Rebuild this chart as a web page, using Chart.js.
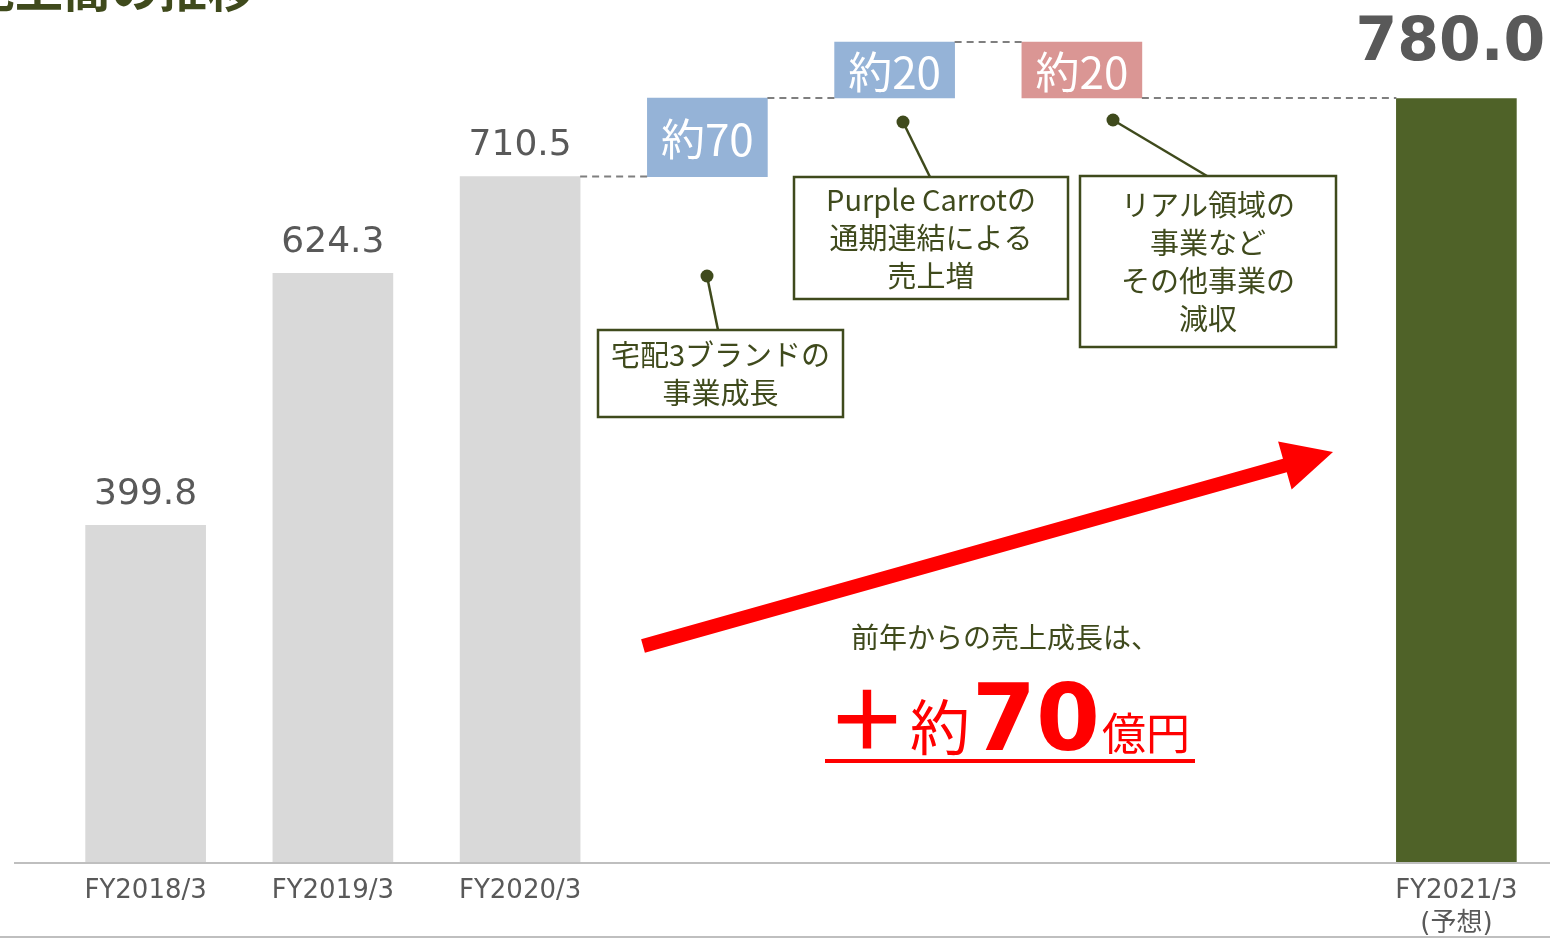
<!DOCTYPE html>
<html lang="ja">
<head>
<meta charset="utf-8">
<title>売上高の推移</title>
<script src="https://cdn.jsdelivr.net/npm/chart.js@4/dist/chart.umd.min.js"></script>
<style>
  html, body { margin: 0; padding: 0; background: #fff; }
  #wrap { position: relative; width: 1550px; height: 938px; }
</style>
</head>
<body>
<div id="wrap"><canvas id="chart"></canvas></div>
<script>
// data (億円)
const categories = ['FY2018/3', 'FY2019/3', 'FY2020/3', '', '', '', '', ['FY2021/3', '(予想)']];
const actualSales = [399.8, 624.3, 710.5];
const bridgeLabels = ['約70', '約20', '約20'];
const bridgeChanges = [70, 20, -20];
const forecastSales = 780.0;

const JP = "'Noto Sans CJK JP', 'Noto Sans', sans-serif";
const NUM = "'DejaVu Sans', 'Noto Sans CJK JP', sans-serif";
const OLIVE = '#3f4a1c';

// waterfall: actual bars, bridge steps, gap, forecast
const barData = [...actualSales];
const barColors = actualSales.map(() => '#d9d9d9');
const barKinds = actualSales.map(() => 'actual');
let level = actualSales[actualSales.length - 1];
bridgeChanges.forEach(d => {
  barData.push([level, level + d]);
  barColors.push(d >= 0 ? '#95b3d7' : '#da9694');
  barKinds.push(d >= 0 ? 'up' : 'down');
  level += d;
});
barData.push(null);
barColors.push('rgba(0,0,0,0)');
barKinds.push('gap');
barData.push(forecastSales);
barColors.push('#4f6228');
barKinds.push('forecast');

const callouts = [
  { lines: ['宅配3ブランドの', '事業成長'], dot: [707, 276], tail: 718, box: [598, 330, 245, 87] },
  { lines: ['Purple Carrotの', '通期連結による', '売上増'], dot: [903, 122], tail: 930, box: [794, 177, 274, 122] },
  { lines: ['リアル領域の', '事業など', 'その他事業の', '減収'], dot: [1113, 120], tail: 1207, box: [1080, 176, 256, 171] }
];

function drawArrow(ctx, x0, y0, x1, y1, shaft, headLen, headHalf) {
  const len = Math.hypot(x1 - x0, y1 - y0);
  const ux = (x1 - x0) / len, uy = (y1 - y0) / len;
  const nx = -uy, ny = ux;
  const bx = x1 - ux * headLen, by = y1 - uy * headLen;
  ctx.beginPath();
  ctx.moveTo(x0 + nx * shaft, y0 + ny * shaft);
  ctx.lineTo(bx + nx * shaft, by + ny * shaft);
  ctx.lineTo(bx + nx * headHalf, by + ny * headHalf);
  ctx.lineTo(x1, y1);
  ctx.lineTo(bx - nx * headHalf, by - ny * headHalf);
  ctx.lineTo(bx - nx * shaft, by - ny * shaft);
  ctx.lineTo(x0 - nx * shaft, y0 - ny * shaft);
  ctx.closePath();
  ctx.fill();
}

const slideExtras = {
  id: 'slideExtras',
  beforeDatasetsDraw(chart) {
    const ctx = chart.ctx;
    const area = chart.chartArea;
    ctx.save();
    ctx.strokeStyle = '#bfbfbf';
    ctx.lineWidth = 2;
    ctx.beginPath();
    ctx.moveTo(14, area.bottom + 1);
    ctx.lineTo(chart.width, area.bottom + 1);
    ctx.moveTo(0, chart.height - 1);
    ctx.lineTo(chart.width, chart.height - 1);
    ctx.stroke();
    ctx.restore();
  },
  afterDatasetsDraw(chart) {
    const ctx = chart.ctx;
    const bars = chart.getDatasetMeta(0).data;
    ctx.save();

    // dashed connectors between waterfall steps
    const visible = [];
    bars.forEach((b, i) => { if (barKinds[i] !== 'gap') visible.push(i); });
    ctx.strokeStyle = '#7f7f7f';
    ctx.lineWidth = 2;
    ctx.setLineDash([7, 5]);
    for (let k = 0; k < visible.length - 1; k++) {
      const i = visible[k], j = visible[k + 1];
      if (barKinds[i] === 'actual' && barKinds[j] === 'actual') continue;
      const a = bars[i], b = bars[j];
      const aTop = Math.min(a.y, a.base), aBot = Math.max(a.y, a.base);
      const yLevel = barKinds[i] === 'down' ? aBot : aTop;
      ctx.beginPath();
      ctx.moveTo(a.x + a.width / 2, yLevel);
      ctx.lineTo(b.x - b.width / 2, yLevel);
      ctx.stroke();
    }
    ctx.setLineDash([]);

    // value labels
    ctx.textAlign = 'center';
    ctx.textBaseline = 'middle';
    let bi = 0;
    bars.forEach((b, i) => {
      const top = Math.min(b.y, b.base), bot = Math.max(b.y, b.base);
      if (barKinds[i] === 'actual') {
        ctx.fillStyle = '#595959';
        ctx.font = '36px ' + NUM;
        ctx.fillText(barData[i].toFixed(1), b.x, top - 31);
      } else if (barKinds[i] === 'up' || barKinds[i] === 'down') {
        ctx.fillStyle = '#ffffff';
        ctx.font = '44px ' + JP;
        ctx.fillText(bridgeLabels[bi], b.x, (top + bot) / 2 + 2);
        bi++;
      } else if (barKinds[i] === 'forecast') {
        ctx.fillStyle = '#595959';
        ctx.font = 'bold 60px ' + NUM;
        ctx.fillText(barData[i].toFixed(1), b.x - 6, top - 54);
      }
    });

    // callouts
    callouts.forEach(c => {
      const [bx, by, bw, bh] = c.box;
      ctx.strokeStyle = OLIVE;
      ctx.fillStyle = OLIVE;
      ctx.lineWidth = 2.5;
      ctx.beginPath();
      ctx.moveTo(c.dot[0], c.dot[1]);
      ctx.lineTo(c.tail, by);
      ctx.stroke();
      ctx.beginPath();
      ctx.arc(c.dot[0], c.dot[1], 6.5, 0, Math.PI * 2);
      ctx.fill();
      ctx.fillStyle = '#ffffff';
      ctx.fillRect(bx, by, bw, bh);
      ctx.strokeRect(bx, by, bw, bh);
      ctx.fillStyle = OLIVE;
      ctx.font = '29px ' + JP;
      const first = by + (bh - (c.lines.length - 1) * 38) / 2;
      c.lines.forEach((t, k) => ctx.fillText(t, bx + bw / 2, first + k * 38));
    });

    // growth arrow
    ctx.fillStyle = '#ff0000';
    drawArrow(ctx, 643, 646, 1333, 452, 7, 50, 25);

    // growth message
    ctx.fillStyle = OLIVE;
    ctx.font = '28px ' + JP;
    ctx.fillText('前年からの売上成長は、', 1005, 637);

    ctx.textAlign = 'left';
    ctx.textBaseline = 'alphabetic';
    ctx.fillStyle = '#ff0000';
    const base = 750;
    let x = 826;
    const parts = [
      ['＋', 'bold 82px ' + JP],
      ['約', '60px ' + JP],
      ['70', 'bold 92px ' + NUM],
      ['億円', '44px ' + JP]
    ];
    parts.forEach(([t, f]) => {
      ctx.font = f;
      ctx.fillText(t, x, base);
      x += ctx.measureText(t).width + 2;
    });
    ctx.fillRect(825, 759, 370, 4);

    // slide title (cut at top edge)
    ctx.fillStyle = OLIVE;
    ctx.font = 'bold 48px ' + JP;
    ctx.fillText('売上高の推移', -33, 7);

    ctx.restore();
  }
};

new Chart(document.getElementById('chart'), {
  type: 'bar',
  data: {
    labels: categories,
    datasets: [{
      data: barData,
      backgroundColor: barColors,
      barThickness: 120,
      minBarLength: 56
    }]
  },
  options: {
    responsive: true,
    maintainAspectRatio: false,
    animation: false,
    layout: { padding: { left: 52, right: 0, top: 20, bottom: 1 } },
    plugins: {
      legend: { display: false },
      tooltip: { enabled: false }
    },
    scales: {
      x: {
        grid: { display: false, drawTicks: false },
        border: { display: false },
        afterFit(scale) { scale.height = 75; },
        ticks: {
          color: '#595959',
          font: { family: NUM, size: 26, lineHeight: 1.25 },
          padding: 13,
          maxRotation: 0,
          autoSkip: false
        }
      },
      y: {
        display: false,
        min: 100,
        max: 850
      }
    }
  },
  plugins: [slideExtras]
});
</script>
</body>
</html>
